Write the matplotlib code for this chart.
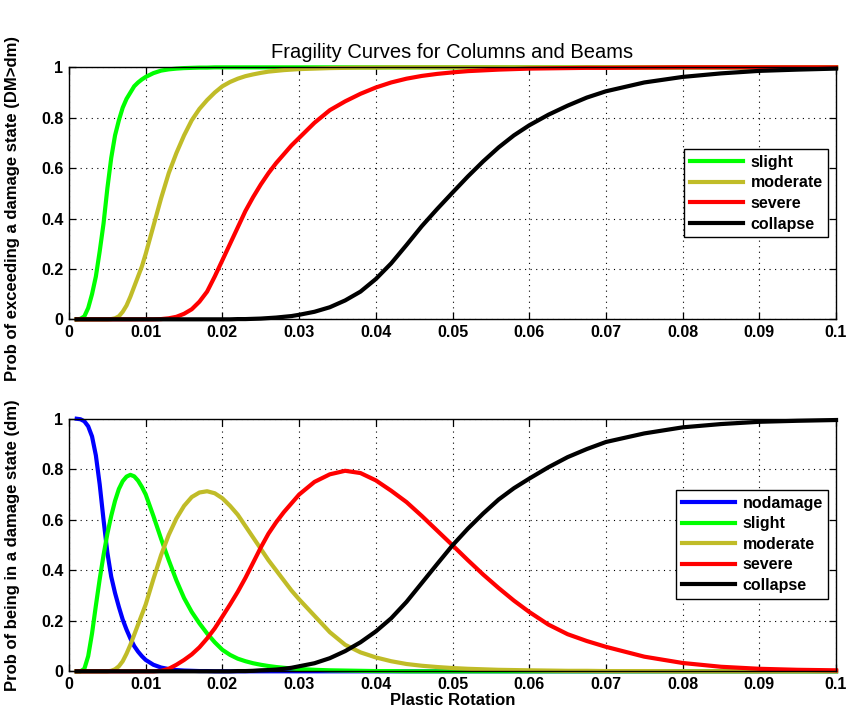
#!/usr/bin/env python3
# -*- coding: utf-8 -*-
"""Fragility curves for columns and beams (two stacked panels)."""
import sys
import matplotlib
matplotlib.use("Agg")
import matplotlib.pyplot as plt

# plastic rotation samples
x_rot = [0.001, 0.0015, 0.002, 0.0025, 0.003, 0.0035, 0.004, 0.0045, 0.005, 0.0055,
         0.006, 0.0065, 0.007, 0.0075, 0.008, 0.0085, 0.009, 0.0095, 0.01, 0.011,
         0.012, 0.013, 0.014, 0.015, 0.016, 0.017, 0.018, 0.019, 0.02, 0.021,
         0.022, 0.023, 0.024, 0.025, 0.026, 0.027, 0.028, 0.029, 0.03, 0.032,
         0.034, 0.036, 0.038, 0.04, 0.042, 0.044, 0.046, 0.048, 0.05, 0.052,
         0.054, 0.056, 0.058, 0.06, 0.0625, 0.065, 0.0675, 0.07, 0.075, 0.08,
         0.085, 0.09, 0.095, 0.1]

# top panel: P(DM > dm)
exc_slight = [0, 0.002, 0.012, 0.045, 0.10, 0.17, 0.27, 0.38, 0.52, 0.64,
              0.73, 0.79, 0.84, 0.875, 0.90, 0.925, 0.94, 0.952, 0.962, 0.977,
              0.987, 0.992, 0.995, 0.997, 0.998, 0.999, 0.999, 1, 1, 1,
              1, 1, 1, 1, 1, 1, 1, 1, 1, 1,
              1, 1, 1, 1, 1, 1, 1, 1, 1, 1,
              1, 1, 1, 1, 1, 1, 1, 1, 1, 1,
              1, 1, 1, 1]
exc_moderate = [0, 0, 0, 0, 0, 0, 0, 0, 0, 0.001,
                0.004, 0.012, 0.03, 0.055, 0.09, 0.13, 0.17, 0.21, 0.26, 0.37,
                0.48, 0.58, 0.66, 0.73, 0.79, 0.835, 0.87, 0.90, 0.925, 0.942,
                0.955, 0.965, 0.972, 0.978, 0.983, 0.986, 0.989, 0.991, 0.993, 0.995,
                0.997, 0.998, 0.999, 0.999, 1, 1, 1, 1, 1, 1,
                1, 1, 1, 1, 1, 1, 1, 1, 1, 1,
                1, 1, 1, 1]
exc_severe = [0, 0, 0, 0, 0, 0, 0, 0, 0, 0,
              0, 0, 0, 0, 0, 0, 0, 0, 0, 0,
              0.001, 0.004, 0.01, 0.022, 0.04, 0.07, 0.11, 0.17, 0.235, 0.30,
              0.365, 0.43, 0.485, 0.535, 0.58, 0.62, 0.655, 0.69, 0.72, 0.78,
              0.83, 0.865, 0.895, 0.92, 0.94, 0.955, 0.966, 0.974, 0.98, 0.985,
              0.988, 0.991, 0.993, 0.995, 0.996, 0.997, 0.998, 0.998, 0.999, 1,
              1, 1, 1, 1]
exc_collapse = [0, 0, 0, 0, 0, 0, 0, 0, 0, 0,
                0, 0, 0, 0, 0, 0, 0, 0, 0, 0,
                0, 0, 0, 0, 0, 0, 0, 0, 0, 0,
                0.001, 0.001, 0.002, 0.003, 0.005, 0.007, 0.01, 0.013, 0.018, 0.03,
                0.048, 0.075, 0.11, 0.16, 0.222, 0.295, 0.37, 0.438, 0.503, 0.567,
                0.627, 0.682, 0.73, 0.77, 0.812, 0.848, 0.88, 0.905, 0.94, 0.962,
                0.976, 0.986, 0.991, 0.995]

# bottom panel: P(DM = dm)
ds_none = [1.0, 0.998, 0.99, 0.97, 0.93, 0.855, 0.74, 0.60, 0.47, 0.375,
           0.31, 0.255, 0.205, 0.165, 0.13, 0.10, 0.078, 0.06, 0.045, 0.026,
           0.015, 0.009, 0.005, 0.003, 0.002, 0.001, 0.001, 0, 0, 0,
           0, 0, 0, 0, 0, 0, 0, 0, 0, 0,
           0, 0, 0, 0, 0, 0, 0, 0, 0, 0,
           0, 0, 0, 0, 0, 0, 0, 0, 0, 0,
           0, 0, 0, 0]
ds_slight = [0, 0, 0.01, 0.06, 0.15, 0.26, 0.365, 0.46, 0.545, 0.615,
             0.675, 0.722, 0.753, 0.771, 0.778, 0.772, 0.755, 0.73, 0.70, 0.615,
             0.525, 0.44, 0.36, 0.29, 0.235, 0.19, 0.15, 0.115, 0.085, 0.065,
             0.05, 0.04, 0.032, 0.026, 0.021, 0.017, 0.014, 0.011, 0.009, 0.006,
             0.004, 0.003, 0.002, 0.001, 0.001, 0, 0, 0, 0, 0,
             0, 0, 0, 0, 0, 0, 0, 0, 0, 0,
             0, 0, 0, 0]
ds_moderate = [0, 0, 0, 0, 0, 0, 0, 0, 0, 0.002,
               0.008, 0.02, 0.04, 0.07, 0.105, 0.145, 0.185, 0.225, 0.265, 0.365,
               0.46, 0.54, 0.605, 0.655, 0.69, 0.708, 0.713, 0.705, 0.685, 0.655,
               0.62, 0.575, 0.53, 0.485, 0.44, 0.40, 0.36, 0.32, 0.285, 0.22,
               0.155, 0.105, 0.075, 0.055, 0.04, 0.029, 0.022, 0.017, 0.013, 0.01,
               0.008, 0.006, 0.005, 0.004, 0.003, 0.002, 0.002, 0.001, 0.001, 0,
               0, 0, 0, 0]
ds_severe = [0, 0, 0, 0, 0, 0, 0, 0, 0, 0,
             0, 0, 0, 0, 0, 0, 0, 0, 0, 0,
             0.002, 0.01, 0.026, 0.045, 0.067, 0.095, 0.13, 0.17, 0.217, 0.265,
             0.315, 0.37, 0.43, 0.49, 0.545, 0.59, 0.63, 0.665, 0.70, 0.75,
             0.78, 0.794, 0.785, 0.756, 0.715, 0.67, 0.615, 0.557, 0.499, 0.44,
             0.383, 0.33, 0.28, 0.235, 0.185, 0.147, 0.12, 0.097, 0.058, 0.033,
             0.018, 0.01, 0.006, 0.004]
ds_collapse = [0, 0, 0, 0, 0, 0, 0, 0, 0, 0,
               0, 0, 0, 0, 0, 0, 0, 0, 0, 0,
               0, 0, 0, 0, 0, 0, 0, 0, 0, 0,
               0.001, 0.001, 0.002, 0.004, 0.005, 0.007, 0.01, 0.014, 0.02, 0.032,
               0.052, 0.08, 0.115, 0.158, 0.21, 0.275, 0.35, 0.425, 0.499, 0.565,
               0.625, 0.68, 0.725, 0.763, 0.808, 0.848, 0.88, 0.908, 0.942, 0.966,
               0.979, 0.988, 0.992, 0.995]

x_ticks = [0, 0.01, 0.02, 0.03, 0.04, 0.05, 0.06, 0.07, 0.08, 0.09, 0.1]
x_tick_labels = ["0", "0.01", "0.02", "0.03", "0.04", "0.05", "0.06", "0.07",
                 "0.08", "0.09", "0.1"]
y_ticks = [0, 0.2, 0.4, 0.6, 0.8, 1]
y_tick_labels = ["0", "0.2", "0.4", "0.6", "0.8", "1"]

C_NONE = "#0000FF"
C_SLIGHT = "#00FF00"
C_MOD = "#C0BC28"
C_SEV = "#FF0000"
C_COL = "#000000"


def style_axes(ax):
    ax.set_xlim(0, 0.1)
    ax.set_ylim(0, 1)
    ax.set_xticks(x_ticks)
    ax.set_xticklabels(x_tick_labels)
    ax.set_yticks(y_ticks)
    ax.set_yticklabels(y_tick_labels)
    ax.tick_params(direction="in", length=5, width=0.9, top=True, right=True,
                   labelsize=11.5, pad=4)
    for lab in ax.get_xticklabels() + ax.get_yticklabels():
        lab.set_fontweight("bold")
    ax.grid(True, linestyle=(0, (1, 4)), color="k", linewidth=0.8)
    for sp in ax.spines.values():
        sp.set_linewidth(1.0)


def main():
    plt.rcParams["font.family"] = ["Liberation Sans", "DejaVu Sans"]
    fig = plt.figure(figsize=(8.5, 7.21), dpi=100)
    ax1 = fig.add_axes([0.0812, 0.5571, 0.9024, 0.3495])
    ax2 = fig.add_axes([0.0812, 0.0689, 0.9024, 0.3503])

    lw = 3.0
    ax1.plot(x_rot, exc_slight, color=C_SLIGHT, lw=lw, label="slight", clip_on=False)
    ax1.plot(x_rot, exc_moderate, color=C_MOD, lw=lw, label="moderate", clip_on=False)
    ax1.plot(x_rot, exc_severe, color=C_SEV, lw=lw, label="severe", clip_on=False)
    ax1.plot(x_rot, exc_collapse, color=C_COL, lw=lw, label="collapse", clip_on=False)
    style_axes(ax1)
    ax1.set_title("Fragility Curves for Columns and Beams", fontsize=14.5, pad=7)
    ax1.set_ylabel("Prob of exceeding a damage state (DM>dm)", fontsize=12,
                   fontweight="bold")
    ax1.yaxis.set_label_coords(-0.064, 0.44)
    leg1 = ax1.legend(loc="upper right", bbox_to_anchor=(0.99, 0.675),
                      fancybox=False, framealpha=1, edgecolor="k",
                      prop={"size": 11.5, "weight": "bold"}, handlelength=3.3,
                      labelspacing=0.35, handletextpad=0.5, borderpad=0.35,
                      borderaxespad=0)
    leg1.get_frame().set_linewidth(1.0)

    ax2.plot(x_rot, ds_none, color=C_NONE, lw=lw, label="nodamage", clip_on=False)
    ax2.plot(x_rot, ds_slight, color=C_SLIGHT, lw=lw, label="slight", clip_on=False)
    ax2.plot(x_rot, ds_moderate, color=C_MOD, lw=lw, label="moderate", clip_on=False)
    ax2.plot(x_rot, ds_severe, color=C_SEV, lw=lw, label="severe", clip_on=False)
    ax2.plot(x_rot, ds_collapse, color=C_COL, lw=lw, label="collapse", clip_on=False)
    style_axes(ax2)
    ax2.set_ylabel("Prob of being in a damage state (dm)", fontsize=12,
                   fontweight="bold")
    ax2.yaxis.set_label_coords(-0.064, 0.5)
    ax2.set_xlabel("Plastic Rotation", fontsize=12, fontweight="bold", labelpad=1)
    leg2 = ax2.legend(loc="upper right", bbox_to_anchor=(0.99, 0.718),
                      fancybox=False, framealpha=1, edgecolor="k",
                      prop={"size": 11.5, "weight": "bold"}, handlelength=3.3,
                      labelspacing=0.35, handletextpad=0.5, borderpad=0.35,
                      borderaxespad=0)
    leg2.get_frame().set_linewidth(1.0)

    fig.savefig("out.png", dpi=100)
    return 0


if __name__ == "__main__":
    sys.exit(main())
